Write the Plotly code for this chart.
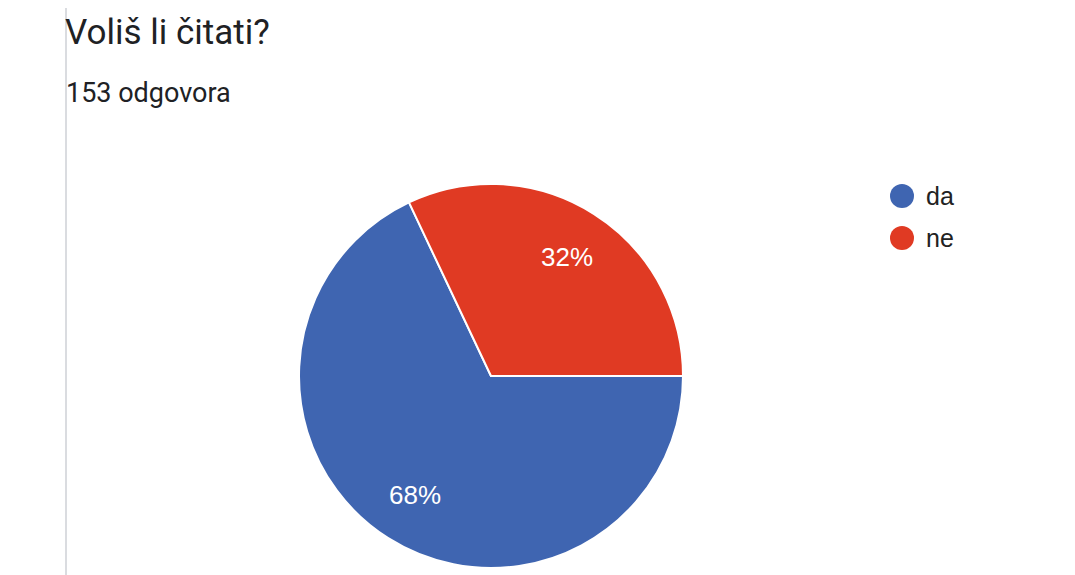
import math
import plotly.graph_objects as go

labels = ["da", "ne"]
counts = [104, 49]
colors = ["#3f65b1", "#e03a23"]
title_text = "Voliš li čitati?"
subtitle_text = "153 odgovora"

W, H = 1075, 575
OFF = 8  # page body margin offset

def px(x):
    return (x - OFF) / W

def py(y):
    return 1 - (y - OFF) / H

# pie geometry (page pixels)
CX, CY, R = 491, 376, 192
ROTATION = 90

fig = go.Figure()
fig.add_trace(go.Pie(
    labels=labels,
    values=counts,
    marker=dict(colors=colors, line=dict(color="white", width=2)),
    sort=False,
    direction="clockwise",
    rotation=ROTATION,
    textinfo="none",
    showlegend=False,
    hoverinfo="label+value+percent",
    domain=dict(x=[px(CX - R), px(CX + R)], y=[py(CY + R), py(CY - R)]),
))

# percentage labels placed at slice mid-angles (computed from data)
total = sum(counts)
start = ROTATION
for v in counts:
    span = 360 * v / total
    mid = math.radians(start + span / 2)
    start += span
    lx = CX + 0.735 * R * math.sin(mid)
    ly = CY - 0.735 * R * math.cos(mid)
    fig.add_annotation(text=f"{round(100 * v / total)}%", xref="paper", yref="paper",
                       x=px(lx), y=py(ly), xanchor="center", yanchor="middle",
                       showarrow=False,
                       font=dict(family="Liberation Sans, Arial", size=26, color="white"))

# title / subtitle
fig.add_annotation(text=title_text, xref="paper", yref="paper",
                   x=px(63), y=py(33), xanchor="left", yanchor="middle",
                   showarrow=False,
                   font=dict(family="Roboto", size=35, color="#202124"))
fig.add_annotation(text=subtitle_text, xref="paper", yref="paper",
                   x=px(64), y=py(93), xanchor="left", yanchor="middle",
                   showarrow=False,
                   font=dict(family="Roboto", size=27, color="#202124"))

# left divider line
fig.add_shape(type="line", xref="paper", yref="paper",
              x0=px(66), x1=px(66), y0=0, y1=1,
              line=dict(color="#dadce0", width=2))

# custom legend with circle markers
for i, (lab, col) in enumerate(zip(labels, colors)):
    cy = 196 + i * 42
    fig.add_shape(type="circle", xref="paper", yref="paper",
                  x0=px(890), x1=px(914), y0=py(cy + 12), y1=py(cy - 12),
                  fillcolor=col, line=dict(width=0))
    fig.add_annotation(text=lab, xref="paper", yref="paper",
                       x=px(924), y=py(cy), xanchor="left", yanchor="middle",
                       showarrow=False,
                       font=dict(family="Liberation Sans, Arial", size=25, color="#222222"))

fig.update_layout(
    width=W, height=H,
    margin=dict(l=0, r=0, t=0, b=0),
    paper_bgcolor="white",
    plot_bgcolor="white",
    showlegend=False,
)

fig.write_html("out.html")
